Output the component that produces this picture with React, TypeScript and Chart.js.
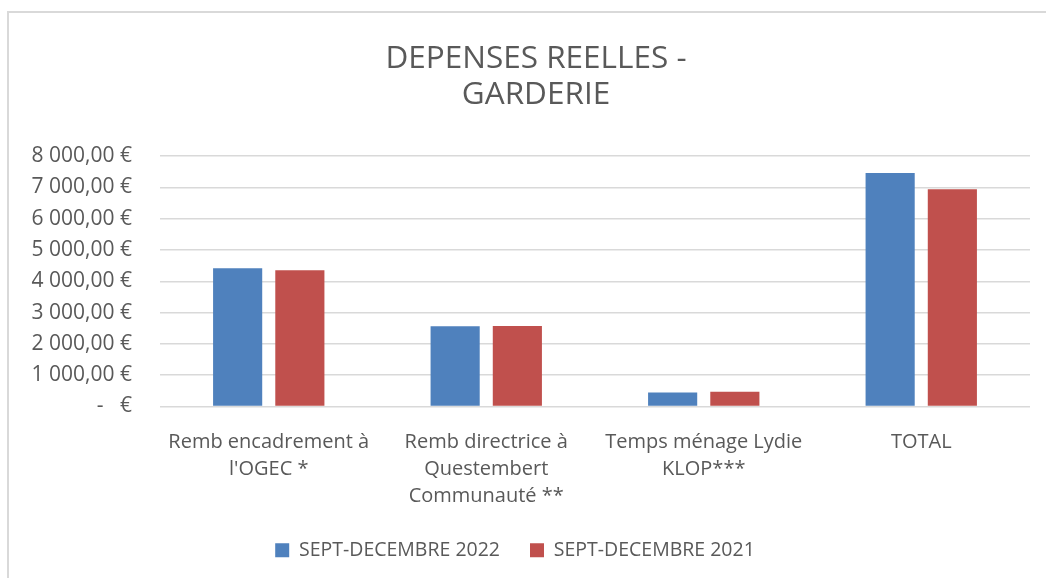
import React, { useEffect, useRef } from "react";
import { Chart, registerables } from "chart.js";

Chart.register(...registerables);

const categories: string[][] = [
  ["Remb encadrement à", "l'OGEC *"],
  ["Remb directrice à", "Questembert", "Communauté **"],
  ["Temps ménage Lydie", "KLOP***"],
  ["TOTAL"],
];
const series2022 = [4415, 2560, 450, 7455];
const series2021 = [4350, 2572, 470, 6935];
const seriesNames = ["SEPT-DECEMBRE 2022", "SEPT-DECEMBRE 2021"];
const titleLines = ["DEPENSES REELLES -", "GARDERIE"];
const yMin = 0;
const yMax = 8000;
const yStep = 1000;

const FONT = "'Open Sans', sans-serif";
const TEXT = "#595959";

function formatEuro(v: number): string {
  if (v === 0) return "-   €";
  const int = Math.floor(v).toString().replace(/\B(?=(\d{3})+(?!\d))/g, " ");
  return int + ",00 €";
}

const borderPlugin = {
  id: "frameBorder",
  beforeDraw(chart: any) {
    const ctx = chart.ctx;
    ctx.save();
    ctx.strokeStyle = "#d9d9d9";
    ctx.lineWidth = 2;
    ctx.beginPath();
    ctx.moveTo(8, chart.height);
    ctx.lineTo(8, 12);
    ctx.lineTo(chart.width, 12);
    ctx.stroke();
    ctx.restore();
  },
};

const titleShiftPlugin = {
  id: "titleShift",
  afterLayout(chart: any) {
    const t = chart.titleBlock;
    if (t) {
      t.left += 21;
      t.right += 21;
    }
  },
};

export default function App() {
  const ref = useRef<HTMLCanvasElement | null>(null);
  useEffect(() => {
    if (!ref.current) return;
    const chart = new Chart(ref.current, {
      type: "bar",
      data: {
        labels: categories,
        datasets: [
          {
            label: seriesNames[0],
            data: series2022,
            backgroundColor: "#4f81bd",
            categoryPercentage: 0.572,
            barPercentage: 0.79,
          },
          {
            label: seriesNames[1],
            data: series2021,
            backgroundColor: "#c0504d",
            categoryPercentage: 0.572,
            barPercentage: 0.79,
          },
        ],
      },
      options: {
        responsive: false,
        animation: false,
        layout: { padding: { left: 0, right: 16, top: 0, bottom: 8 } },
        plugins: {
          title: {
            display: true,
            text: titleLines,
            color: TEXT,
            font: { family: FONT, size: 31.5, weight: "normal", lineHeight: 1.143 },
            padding: { top: 41, bottom: 43 },
          },
          legend: {
            position: "bottom",
            labels: {
              color: TEXT,
              font: { family: FONT, size: 19.5 },
              boxWidth: 14,
              boxHeight: 14,
              padding: 30,
            },
          },
          tooltip: { enabled: false },
        },
        scales: {
          x: {
            grid: { display: false },
            border: { display: false },
            ticks: {
              color: TEXT,
              font: { family: FONT, size: 20, lineHeight: 1.35 },
              padding: 14,
              maxRotation: 0,
              autoSkip: false,
            },
            afterFit: (scale: any) => {
              scale.height -= 13;
            },
          },
          y: {
            min: yMin,
            max: yMax,
            grid: { color: "#d9d9d9", lineWidth: 1.5, drawTicks: false },
            border: { display: false },
            ticks: {
              stepSize: yStep,
              color: TEXT,
              font: { family: FONT, size: 21 },
              padding: 28,
              callback: (v: any) => formatEuro(Number(v)),
            },
            afterFit: (scale: any) => {
              scale.width = 160;
            },
          },
        },
      },
      plugins: [borderPlugin, titleShiftPlugin],
    });
    return () => chart.destroy();
  }, []);
  return (
    <div style={{ position: "fixed", left: 0, top: 0, width: 1046, height: 578, background: "#fff" }}>
      <canvas ref={ref} width={1046} height={578} />
    </div>
  );
}
